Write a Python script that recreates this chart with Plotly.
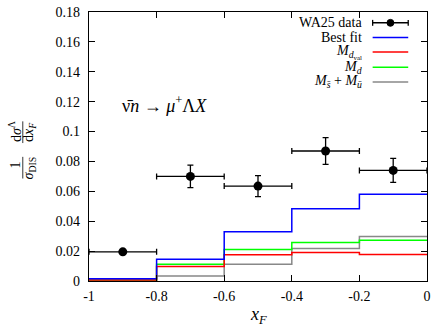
import plotly.graph_objects as go

# WA25 data points (bin centres, values, errors)
data_x = [-0.9, -0.7, -0.5, -0.3, -0.1]
data_y = [0.0195, 0.070, 0.0635, 0.087, 0.074]
data_yerr = [0.0, 0.0075, 0.007, 0.009, 0.008]
data_xerr = [0.1, 0.1, 0.1, 0.1, 0.1]

# histogram bin edges and bin contents
bin_edges = [-1.0, -0.8, -0.6, -0.4, -0.2, 0.0]
best_fit = [0.0015, 0.0145, 0.033, 0.0483, 0.058]
m_dval = [0.0007, 0.0097, 0.0176, 0.0190, 0.0177]
m_d = [0.0007, 0.0112, 0.021, 0.0257, 0.0272]
m_sea = [0.0003, 0.0033, 0.0112, 0.0217, 0.0297]

x_ticks = [-1, -0.8, -0.6, -0.4, -0.2, 0]
x_labels = ["-1", "-0.8", "-0.6", "-0.4", "-0.2", "0"]
y_ticks = [0, 0.02, 0.04, 0.06, 0.08, 0.1, 0.12, 0.14, 0.16, 0.18]
y_labels = ["0", "0.02", "0.04", "0.06", "0.08", "0.1", "0.12", "0.14", "0.16", "0.18"]

FONT = "Liberation Serif"
W, H = 436, 327
L, R, T, B = 89, 5, 8, 46   # plot area in page pixels
pw, ph = W - L - R, H - T - B


def px(x):
    return (x - L) / pw


def py(y):
    return (H - B - y) / ph


fig = go.Figure()

hists = [
    ("Best fit", best_fit, "#0000ff"),
    ("M_dval", m_dval, "#ff0000"),
    ("M_d", m_d, "#00ff00"),
    ("M_sea", m_sea, "#888888"),
]
for name, vals, col in hists[::-1]:
    fig.add_trace(go.Scatter(x=bin_edges, y=vals + [vals[-1]], mode="lines",
                             line=dict(color=col, width=1.5, shape="hv"),
                             name=name, showlegend=False, cliponaxis=False))

fig.add_trace(go.Scatter(
    x=data_x, y=data_y, mode="markers", name="WA25 data", showlegend=False,
    marker=dict(color="black", size=9),
    error_x=dict(type="data", array=data_xerr, color="black", thickness=1.3, width=3),
    error_y=dict(type="data", array=data_yerr, color="black", thickness=1.3, width=3),
))

# legend drawn by hand (text right, sample on the right like gnuplot)
leg_rows = [
    ("WA25 data", "black", 19),
    ("Best fit", "#0000ff", 34),
    ("<i>M</i><sub><i>d</i><sub>val</sub></sub>", "#ff0000", 48.5),
    ("<i>M</i><sub><i>d</i></sub>", "#00ff00", 64),
    ("<i>M</i><sub><i>s̄</i></sub> + <i>M</i><sub><i>ū</i></sub>", "#888888", 79),
]
shapes = []
annotations = []
for txt, col, yy in leg_rows:
    annotations.append(dict(x=px(367), y=py(yy), xref="paper", yref="paper", text=txt,
                            showarrow=False, xanchor="right", yanchor="middle",
                            font=dict(family=FONT, size=14, color="black")))
    shapes.append(dict(type="line", xref="paper", yref="paper", x0=px(376), x1=px(412),
                       y0=py(yy), y1=py(yy), line=dict(color=col, width=1.5)))
# data sample marker and caps
shapes.append(dict(type="circle", xref="paper", yref="paper", x0=px(390.5), x1=px(397.5),
                   y0=py(15.5), y1=py(22.5), fillcolor="black", line=dict(color="black", width=1)))
for cx in (376, 412):
    shapes.append(dict(type="line", xref="paper", yref="paper", x0=px(cx), x1=px(cx),
                       y0=py(16), y1=py(22), line=dict(color="black", width=1.3)))

# process label
annotations.append(dict(x=px(120), y=py(102), xref="paper", yref="paper",
                        text="ν̄<i>n</i> → <i>μ</i><sup>+</sup>Λ<i>X</i>", showarrow=False,
                        xanchor="left", yanchor="middle",
                        font=dict(family=FONT, size=18, color="black")))

# x-axis title
annotations.append(dict(x=px(260), y=py(316), xref="paper", yref="paper",
                        text="<i>x<sub>F</sub></i>", showarrow=False,
                        xanchor="center", yanchor="middle",
                        font=dict(family=FONT, size=18, color="black")))

# y-axis title as a rotated fraction
frac_parts = [
    ("1", 15, 163),
    ("d<i>σ</i><sup>Λ</sup>", 14, 129),
    ("<i>σ</i><sub>DIS</sub>", 29, 166),
    ("d<i>x<sub>F</sub></i>", 29, 130),
]
for txt, xx, yy in frac_parts:
    annotations.append(dict(x=px(xx), y=py(yy), xref="paper", yref="paper", text=txt,
                            showarrow=False, textangle=-90, xanchor="center", yanchor="middle",
                            font=dict(family=FONT, size=14, color="black")))
for y0, y1 in ((155, 177), (119, 141)):
    shapes.append(dict(type="line", xref="paper", yref="paper", x0=px(22), x1=px(22),
                       y0=py(y0), y1=py(y1), line=dict(color="black", width=0.8)))

axis_common = dict(showgrid=False, zeroline=False, showline=True, linecolor="black",
                   linewidth=1.3, mirror="ticks", ticks="inside", ticklen=6,
                   tickcolor="black", tickwidth=1,
                   tickfont=dict(family=FONT, size=14, color="black"))

fig.update_layout(
    width=W, height=H,
    margin=dict(l=L, r=R, t=T, b=B, pad=0),
    paper_bgcolor="white", plot_bgcolor="white",
    showlegend=False,
    xaxis=dict(range=[-1, 0], tickvals=x_ticks, ticktext=x_labels,
               ticklabelstandoff=2, **axis_common),
    yaxis=dict(range=[0, 0.18], tickvals=y_ticks, ticktext=y_labels,
               ticklabelstandoff=5, **axis_common),
    shapes=shapes,
    annotations=annotations,
)

# drop the browser's default body margin so the figure sits at the page corner
fig.write_html("out.html", config={"displayModeBar": False},
               post_script="document.body.style.margin='0';")
